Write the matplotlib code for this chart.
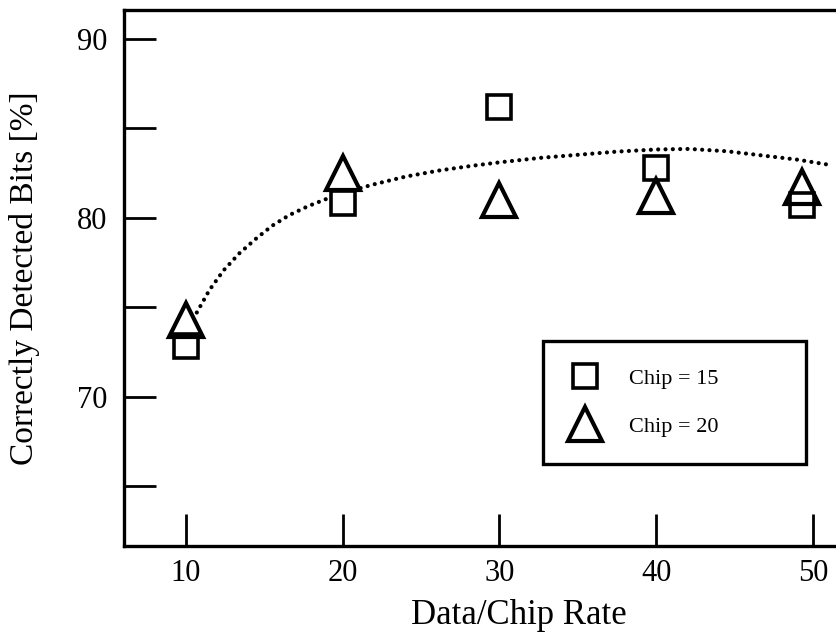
import matplotlib
matplotlib.use("Agg")
import matplotlib.pyplot as plt
from matplotlib.ticker import FixedLocator

# datos
rate = [10, 20, 30, 40, 49.3]
chip15 = [72.8, 80.8, 86.2, 82.8, 80.7]
chip20 = [74.3, 82.5, 81.0, 81.2, 81.7]

# curva punteada (puntos leidos)
curva_x = [10.7, 11.5, 12.4, 13.4, 14.5, 15.5, 16.6, 17.8, 19.1, 20.5, 21.9,
           24.0, 26.2, 28.2, 30.0, 32.6, 34.7, 37.5, 40.0, 42.1, 44.5, 46.6,
           49.0, 51.1]
curva_y = [74.7, 75.95, 77.05, 78.0, 78.85, 79.55, 80.15, 80.65, 81.1, 81.5,
           81.85, 82.3, 82.65, 82.9, 83.1, 83.35, 83.5, 83.7, 83.82, 83.85,
           83.72, 83.5, 83.25, 82.95]

xticks = [10, 20, 30, 40, 50]
yticks = [70, 80, 90]
yminor = [65, 75, 85]

plt.rcParams['font.family'] = ['Liberation Serif', 'DejaVu Serif']

fig = plt.figure(figsize=(8.37, 6.38), dpi=100)
ax = fig.add_axes([0.148, 0.1442, 0.852, 0.8401])

ax.plot(curva_x, curva_y, color='black', lw=3.0, linestyle=(0, (0.01, 1.75)),
        dash_capstyle='round', zorder=2)

ax.plot(rate, chip15, linestyle='none', marker='s', ms=17.5, mew=2.6,
        mfc='white', mec='black', label='Chip = 15', zorder=3)
ax.plot(rate, chip20, linestyle='none', marker='^', ms=24, mew=3.0,
        mfc='none', mec='black', label='Chip = 20', zorder=4)

ax.set_xlim(6.05, 51.52)
ax.set_ylim(61.64, 91.62)

ax.set_xticks(xticks)
ax.set_yticks(yticks)
ax.yaxis.set_minor_locator(FixedLocator(yminor))
ax.tick_params(axis='both', which='both', direction='in', length=23, width=2.0,
               labelsize=22)
ax.tick_params(axis='x', pad=9)
ax.tick_params(axis='y', pad=12)

for s in ['left', 'bottom', 'top']:
    ax.spines[s].set_linewidth(2.4)
ax.spines['right'].set_visible(False)

ax.set_xlabel('Data/Chip Rate', fontsize=25)
ax.xaxis.set_label_coords(0.554, -0.098)
ax.set_ylabel('Correctly Detected Bits [%]', fontsize=24)
ax.yaxis.set_label_coords(-0.118, 0.5)

leg = ax.legend(loc='upper left', bbox_to_anchor=(0.588, 0.155, 0.369, 0.228),
                mode='expand', fontsize=16, frameon=True, fancybox=False,
                framealpha=1, borderpad=1.25, labelspacing=1.22,
                handlelength=1.3, handletextpad=1.3, borderaxespad=0)
leg.get_frame().set_edgecolor('black')
leg.get_frame().set_linewidth(2.4)

fig.savefig('out.png', dpi=100)
